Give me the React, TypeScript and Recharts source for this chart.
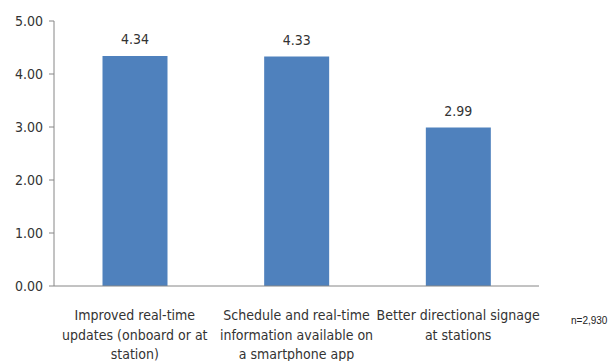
import React from 'react';
import { Bar, BarChart, LabelList, XAxis, YAxis } from 'recharts';

const categories = [
  ['Improved real-time', 'updates (onboard or at', 'station)'],
  ['Schedule and real-time', 'information available on', 'a smartphone app'],
  ['Better directional signage', 'at stations'],
];
const scores = [4.34, 4.33, 2.99];
const yTicks = [0, 1, 2, 3, 4, 5];
const boundaryTicks = [0, 1, 2, 3];

const data = categories.map((lines, i) => ({
  name: lines.join(' '),
  lines,
  score: scores[i],
}));

const FONT = '"Liberation Sans Narrow", "DejaVu Sans Condensed", "Liberation Sans", Arial, sans-serif';
const AXIS = '#868686';
const TEXT = '#333';

const CategoryTick = ({ x, y, payload, index }: any) => {
  const lines = categories[index] ?? [String(payload.value)];
  return (
    <text x={x} y={y} textAnchor="middle" fill={TEXT} fontFamily={FONT} fontSize={14}>
      {lines.map((l, i) => (
        <tspan key={i} x={x} dy={i === 0 ? 26 : 19.5}>
          {l}
        </tspan>
      ))}
    </text>
  );
};

export default function App() {
  return (
    <div style={{ position: 'absolute', left: 0, top: 0, width: 610, height: 361, background: '#fff' }}>
      <BarChart
        width={610}
        height={361}
        data={data}
        margin={{ top: 21, right: 71, bottom: 0, left: 0 }}
        barCategoryGap="30%"
      >
        <YAxis
          width={54}
          domain={[0, 5]}
          ticks={yTicks}
          tickFormatter={(v: number) => v.toFixed(2)}
          axisLine={{ stroke: AXIS }}
          tickLine={{ stroke: AXIS }}
          tickSize={5}
          tickMargin={6}
          tick={{ fill: TEXT, fontFamily: FONT, fontSize: 14 }}
        />
        <XAxis
          dataKey="name"
          height={75}
          axisLine={{ stroke: AXIS }}
          tickLine={false}
          interval={0}
          tick={<CategoryTick />}
        />
        {/* second axis only supplies the tick marks between categories */}
        <XAxis
          xAxisId="bounds"
          type="number"
          domain={[0, 3]}
          ticks={boundaryTicks}
          height={0}
          axisLine={false}
          tick={false}
          tickLine={{ stroke: AXIS }}
          tickSize={5}
        />
        <Bar dataKey="score" fill="#4F81BD" isAnimationActive={false}>
          <LabelList
            dataKey="score"
            position="top"
            offset={12}
            formatter={(v: any) => Number(v).toFixed(2)}
            style={{ fill: TEXT, fontFamily: FONT, fontSize: 14 }}
          />
        </Bar>
      </BarChart>
      <div
        style={{
          position: 'absolute',
          left: 571,
          top: 315,
          fontFamily: 'Arial, "Liberation Sans", sans-serif',
          fontSize: 10,
          lineHeight: '12px',
          color: '#222',
          whiteSpace: 'nowrap',
        }}
      >
        n=2,930
      </div>
    </div>
  );
}
